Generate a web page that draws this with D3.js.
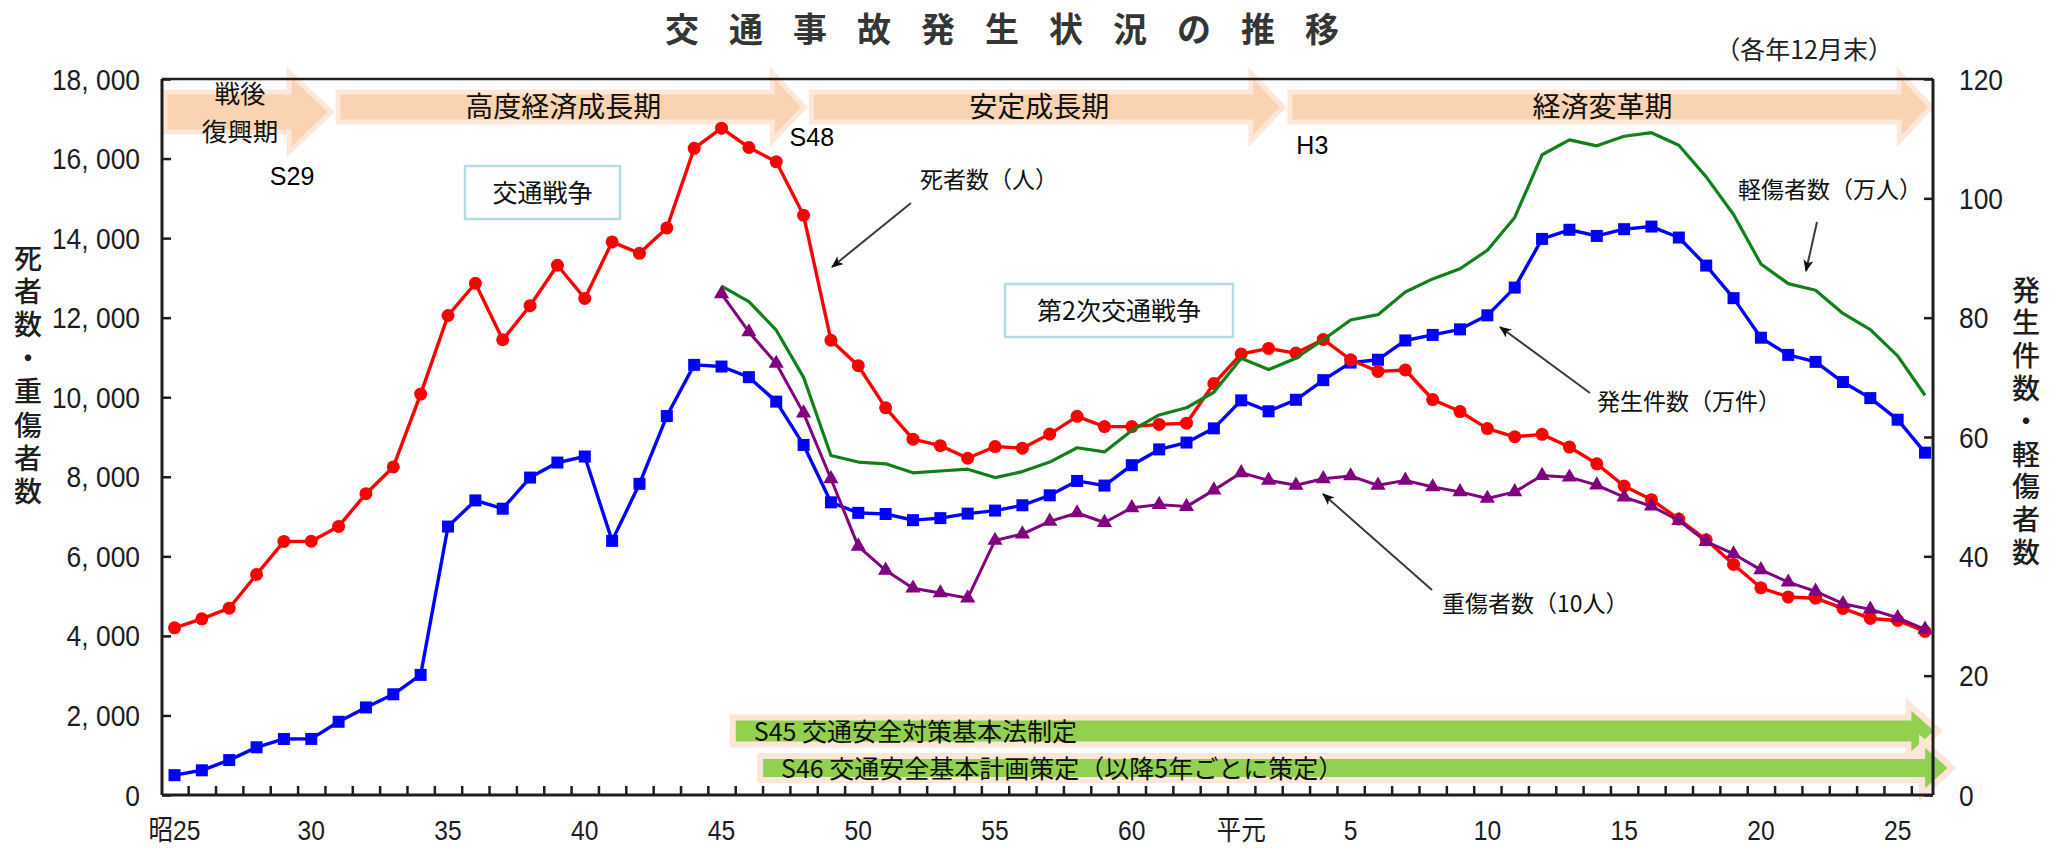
<!DOCTYPE html>
<html>
<head>
<meta charset="utf-8">
<script src="https://cdn.jsdelivr.net/npm/d3@7/dist/d3.min.js"></script>
<style>
  html, body { margin: 0; padding: 0; background: #fff; }
  svg { display: block; }
</style>
</head>
<body>
<svg id="chart" width="2057" height="848"></svg>
<script>
// ---- data -------------------------------------------------------------
const years = d3.range(1950, 2015);            // 昭和25年 … 平成26年
const injuryYears = d3.range(1970, 2015);      // 昭和45年 … 平成26年

// 死者数（人）
const deaths = [
  4202, 4429, 4696, 5544, 6374, 6379, 6751, 7575, 8248, 10079,
  12055, 12865, 11445, 12301, 13318, 12484, 13904, 13618, 14256, 16257,
  16765, 16278, 15918, 14574, 11432, 10792, 9734, 8945, 8783, 8466,
  8760, 8719, 9073, 9520, 9262, 9261, 9317, 9347, 10344, 11086,
  11227, 11109, 11452, 10942, 10649, 10684, 9942, 9640, 9211, 9006,
  9066, 8747, 8326, 7768, 7425, 6937, 6415, 5796, 5209, 4979,
  4948, 4691, 4438, 4388, 4113
];

// 発生件数（万件）
const accidents = [
  3.32, 4.14, 5.85, 8.00, 9.39, 9.40, 12.27, 14.68, 16.88, 20.13,
  44.99, 49.37, 47.98, 53.20, 55.72, 56.73, 42.59, 52.15, 63.51, 72.09,
  71.81, 70.03, 65.93, 58.67, 49.05, 47.29, 47.10, 46.06, 46.40, 47.16,
  47.67, 48.56, 50.23, 52.64, 51.86, 55.28, 57.92, 59.07, 61.45, 66.14,
  64.31, 66.24, 69.53, 72.47, 72.95, 76.18, 77.11, 78.04, 80.39, 85.04,
  93.20, 94.73, 93.70, 94.83, 95.27, 93.43, 88.73, 83.27, 76.64, 73.76,
  72.59, 69.21, 66.52, 62.90, 57.38
];

// 重傷者数（10人）
const serious = [
  12600, 11640, 10850, 9600, 7950, 6250, 5650, 5200, 5080, 4950,
  6400, 6560, 6880, 7090, 6850, 7220, 7300, 7250, 7665, 8100,
  7910, 7785, 7950, 8020, 7785, 7910, 7745, 7620, 7455, 7620,
  8030, 7990, 7790, 7490, 7260, 6900, 6370, 6060, 5660, 5350,
  5120, 4810, 4666, 4455, 4166
];

// 軽傷者数（万人）
const light = [
  85.3, 82.7, 77.9, 70.0, 56.9, 55.8, 55.5, 54.0, 54.3, 54.6,
  53.2, 54.2, 55.8, 58.2, 57.5, 61.1, 63.7, 64.9, 67.5, 73.2,
  71.3, 73.2, 76.3, 79.6, 80.5, 84.3, 86.5, 88.2, 91.3, 96.8,
  107.3, 109.8, 108.8, 110.4, 111.0, 108.9, 103.6, 97.3, 89.0, 85.7,
  84.6, 80.7, 78.0, 73.6, 67.0
];

const leftTicks = d3.range(0, 18001, 2000);
const rightTicks = d3.range(0, 121, 20);
const xLabelYears = [1950, 1955, 1960, 1965, 1970, 1975, 1980, 1985, 1989, 1993, 1998, 2003, 2008, 2013];
const xLabelText  = ["昭25", "30", "35", "40", "45", "50", "55", "60", "平元", "5", "10", "15", "20", "25"];

const periodNames = [["戦後", "復興期"], ["高度経済成長期"], ["安定成長期"], ["経済変革期"]];
const periodEnds  = [1955.8, 1973.1, 1990.6, 2014.3];
const eraMarks    = ["S29", "S48", "H3"];
const eraMarkYears = [1954.3, 1973.3, 1991.6];

const policyNames = ["S45 交通安全対策基本法制定", "S46 交通安全基本計画策定（以降5年ごとに策定）"];
const policyFrom  = [1970.3, 1971.3];
const policyTo    = [2014.6, 2015.1];

// ---- setup ------------------------------------------------------------
const JP  = '"Noto Sans CJK JP", "Noto Sans", sans-serif';
const NUM = '"Liberation Sans", Arial, "Noto Sans CJK JP", sans-serif';
const svg = d3.select("#chart");

const plot = { left: 162, right: 1933, top: 79, bottom: 795 };
const x  = d3.scaleLinear().domain([1950, 2014]).range([174.5, 1925]);
const yL = d3.scaleLinear().domain([0, 18000]).range([plot.bottom, plot.top]);
const yR = d3.scaleLinear().domain([0, 120]).range([plot.bottom, plot.top]);

// condensed numeric label helper
function numLabel(g, px, py, txt, anchor, size) {
  g.append("text")
    .attr("transform", `translate(${px},${py}) scale(0.88,1)`)
    .attr("text-anchor", anchor)
    .attr("dy", "0.35em")
    .attr("font-family", NUM)
    .attr("font-size", size || 30)
    .attr("fill", "#1c1c24")
    .text(txt);
}

// ---- title ------------------------------------------------------------
svg.append("text")
  .attr("x", 665).attr("y", 30).attr("dy", "0.36em")
  .attr("font-family", JP).attr("font-size", 34).attr("font-weight", 700)
  .attr("letter-spacing", 30)
  .attr("fill", "#353535")
  .text("交通事故発生状況の推移");

svg.append("text")
  .attr("x", 1893).attr("y", 50).attr("dy", "0.36em")
  .attr("text-anchor", "end")
  .attr("font-family", JP).attr("font-size", 25).attr("fill", "#222")
  .text("（各年12月末）");

// ---- period arrows (top band) -------------------------------------------
function arrowPath(x0, x1, cy, bodyHalf, headHalf, headLen) {
  const hb = x1 - headLen;
  return `M${x0},${cy - bodyHalf}L${hb},${cy - bodyHalf}L${hb},${cy - headHalf}` +
         `L${x1},${cy}L${hb},${cy + headHalf}L${hb},${cy + bodyHalf}L${x0},${cy + bodyHalf}Z`;
}

const periodG = svg.append("g");
periodNames.forEach((name, i) => {
  const x0 = i === 0 ? plot.left + 3 : x(periodEnds[i - 1]) + 5;
  const x1 = x(periodEnds[i]) - 2;
  const first = i === 0;
  const cy = first ? 112 : 107;
  periodG.append("path")
    .attr("d", arrowPath(x0, x1, cy, first ? 20 : 15, first ? 40 : 34, first ? 42 : 32))
    .attr("fill", "#F9D3B2")
    .attr("stroke", "#FCE7D8")
    .attr("stroke-width", 5)
    .attr("stroke-linejoin", "miter");
  const tx = (x0 + x1) / 2 - 8;
  name.forEach((line, j) => {
    periodG.append("text")
      .attr("x", tx)
      .attr("y", first ? 94 + j * 37.5 : cy)
      .attr("dy", "0.36em")
      .attr("text-anchor", "middle")
      .attr("font-family", JP).attr("font-size", first ? 25.5 : 28).attr("fill", "#111")
      .text(line);
  });
});

const eraMarkY = [176, 137, 145];
eraMarks.forEach((m, i) => {
  svg.append("text")
    .attr("x", x(eraMarkYears[i])).attr("y", eraMarkY[i]).attr("dy", "0.36em")
    .attr("text-anchor", "middle")
    .attr("font-family", NUM).attr("font-size", 25).attr("fill", "#000")
    .text(m);
});

// ---- framed boxes -------------------------------------------------------
function labelBox(bx, by, bw, bh, txt) {
  svg.append("rect")
    .attr("x", bx).attr("y", by).attr("width", bw).attr("height", bh)
    .attr("fill", "#fff").attr("stroke", "#B5DCE3").attr("stroke-width", 2.5);
  svg.append("text")
    .attr("x", bx + bw / 2).attr("y", by + bh / 2).attr("dy", "0.36em")
    .attr("text-anchor", "middle")
    .attr("font-family", JP).attr("font-size", 25).attr("fill", "#111")
    .text(txt);
}
labelBox(465, 166, 155, 53, "交通戦争");
labelBox(1005, 284, 228, 53, "第2次交通戦争");

// ---- policy arrows (bottom) -------------------------------------------
policyNames.forEach((name, i) => {
  const x0 = x(policyFrom[i]) + 3;
  const x1 = x(policyTo[i]) - 3;
  const cy = i === 0 ? 731 : 768;
  svg.append("path")
    .attr("d", arrowPath(x0, x1, cy, i === 0 ? 13.5 : 12, 27, 30))
    .attr("fill", "#92D050")
    .attr("stroke", "#FCE6D8")
    .attr("stroke-width", 6)
    .attr("stroke-linejoin", "miter");
  svg.append("text")
    .attr("x", x0 + 21).attr("y", cy + 1).attr("dy", "0.36em")
    .attr("font-family", JP).attr("font-size", 25).attr("fill", "#111")
    .text(name);
});

// ---- axes / frame ------------------------------------------------------
const axisG = svg.append("g").attr("stroke", "#1e1e1e").attr("fill", "none");
axisG.append("line").attr("x1", plot.left).attr("x2", plot.right)
  .attr("y1", plot.top).attr("y2", plot.top).attr("stroke-width", 2.5);
axisG.append("line").attr("x1", plot.left).attr("x2", plot.right)
  .attr("y1", plot.bottom).attr("y2", plot.bottom).attr("stroke-width", 3);
axisG.append("line").attr("x1", plot.left).attr("x2", plot.left)
  .attr("y1", plot.top).attr("y2", plot.bottom).attr("stroke-width", 3);
axisG.append("line").attr("x1", plot.right).attr("x2", plot.right)
  .attr("y1", plot.top).attr("y2", plot.bottom).attr("stroke-width", 3);

// inward tick marks
const leftAxis = svg.append("g").attr("transform", `translate(${plot.left},0)`)
  .call(d3.axisLeft(yL).tickValues(leftTicks).tickSize(-9).tickSizeOuter(0).tickFormat(""));
const rightAxis = svg.append("g").attr("transform", `translate(${plot.right},0)`)
  .call(d3.axisRight(yR).tickValues(rightTicks).tickSize(-9).tickSizeOuter(0).tickFormat(""));
const bottomAxis = svg.append("g").attr("transform", `translate(0,${plot.bottom})`)
  .call(d3.axisBottom(x).tickValues(d3.range(1950.5, 2014, 1)).tickSize(-9).tickSizeOuter(0).tickFormat(""));
[leftAxis, rightAxis, bottomAxis].forEach(g => {
  g.select(".domain").remove();
  g.selectAll(".tick line").attr("stroke", "#1e1e1e").attr("stroke-width", 2.5);
});

// tick labels
const fmtLeft = v => d3.format(",")(v).replace(",", ", ");
const tickLabelG = svg.append("g");
leftTicks.forEach(v => numLabel(tickLabelG, plot.left - 22, yL(v), fmtLeft(v), "end"));
rightTicks.forEach(v => numLabel(tickLabelG, plot.right + 26, yR(v), String(v), "start"));
xLabelYears.forEach((yr, i) => numLabel(tickLabelG, x(yr), 830, xLabelText[i], "middle", 28));

// vertical axis titles (one text run each, set top-to-bottom)
function verticalTitle(cx, top, step, size, txt) {
  svg.append("text")
    .attr("x", cx).attr("y", top)
    .style("writing-mode", "vertical-rl")
    .style("text-orientation", "upright")
    .attr("letter-spacing", step - size)
    .attr("font-family", JP).attr("font-size", size).attr("font-weight", 500)
    .attr("fill", "#1e1e1e")
    .text(txt);
}
verticalTitle(28, 244, 33.4, 28, "死者数・重傷者数");
verticalTitle(2026, 276, 32.8, 28, "発生件数・軽傷者数");

// ---- series -------------------------------------------------------------
const line = d3.line();

function drawSeries(xs, ys, color, width) {
  svg.append("path")
    .attr("d", line(xs.map((d, i) => [x(d), ys[i]])))
    .attr("fill", "none").attr("stroke", color)
    .attr("stroke-width", width).attr("stroke-linejoin", "round");
}

// 発生件数（万件） – right axis, squares
drawSeries(years, accidents.map(v => yR(v)), "#0000FF", 3.4);
svg.append("g").selectAll("rect").data(accidents).join("rect")
  .attr("x", (d, i) => x(years[i]) - 6).attr("y", d => yR(d) - 6)
  .attr("width", 12).attr("height", 12).attr("fill", "#0000FF");

// 死者数（人） – left axis, circles
drawSeries(years, deaths.map(v => yL(v)), "#FF0000", 3.4);
svg.append("g").selectAll("circle").data(deaths).join("circle")
  .attr("cx", (d, i) => x(years[i])).attr("cy", d => yL(d))
  .attr("r", 6.5).attr("fill", "#FF0000");

// 軽傷者数（万人） – right axis, plain line
drawSeries(injuryYears, light.map(v => yR(v)), "#12801A", 3.2);

// 重傷者数（10人） – left axis, triangles
drawSeries(injuryYears, serious.map(v => yL(v)), "#800080", 3);
const tri = d3.symbol(d3.symbolTriangle, 100);
svg.append("g").selectAll("path").data(serious).join("path")
  .attr("d", tri)
  .attr("transform", (d, i) => `translate(${x(injuryYears[i])},${yL(d)})`)
  .attr("fill", "#800080");

// ---- callouts -----------------------------------------------------------
const defs = svg.append("defs");
defs.append("marker")
  .attr("id", "head").attr("viewBox", "0 0 12 10")
  .attr("refX", 11).attr("refY", 5)
  .attr("markerWidth", 12).attr("markerHeight", 10)
  .attr("markerUnits", "userSpaceOnUse")
  .attr("orient", "auto")
  .append("path").attr("d", "M0,0L12,5L0,10L3,5Z").attr("fill", "#111");

function callout(txt, tx, ty, anchor, ax1, ay1, ax2, ay2) {
  svg.append("line")
    .attr("x1", ax1).attr("y1", ay1).attr("x2", ax2).attr("y2", ay2)
    .attr("stroke", "#3a3a3a").attr("stroke-width", 2)
    .attr("marker-end", "url(#head)");
  svg.append("text")
    .attr("x", tx).attr("y", ty).attr("dy", "0.36em")
    .attr("text-anchor", anchor)
    .attr("font-family", JP).attr("font-size", 23).attr("fill", "#111")
    .text(txt);
}
callout("死者数（人）", 920, 180, "start", 911, 203, 832, 267);
callout("発生件数（万件）", 1597, 402, "start", 1590, 393, 1500, 327);
callout("重傷者数（10人）", 1442, 604, "start", 1432, 590, 1323, 494);
callout("軽傷者数（万人）", 1738, 190, "start", 1817, 222, 1806, 271);
</script>
</body>
</html>
